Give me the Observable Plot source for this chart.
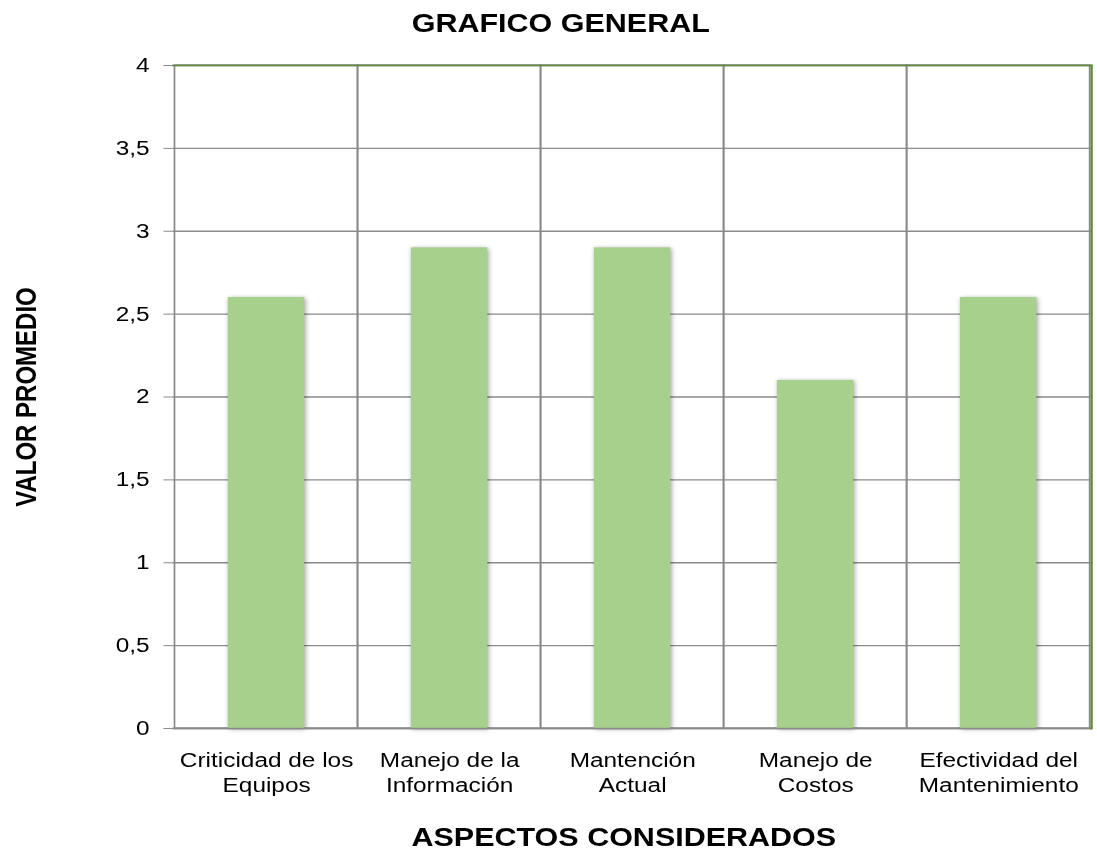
<!DOCTYPE html>
<html>
<head>
<meta charset="utf-8">
<script src="https://cdn.jsdelivr.net/npm/d3@7"></script>
<script src="https://cdn.jsdelivr.net/npm/@observablehq/plot@0.6"></script>
<style>
  html, body { margin: 0; padding: 0; background: #fff; }
  #chart { width: 899px; transform: scaleX(1.2202); transform-origin: 0 0; }
  #chart svg { font-family: "Liberation Sans", Arial, sans-serif; overflow: visible; }
  .bars { filter: drop-shadow(1.2px 1px 2px rgba(0, 0, 0, 0.38)); }
</style>
</head>
<body>
<div id="chart"></div>
<script>
// Aspects evaluated and their average score
const categories = [
  "Criticidad de los Equipos",
  "Manejo de la Información",
  "Mantención Actual",
  "Manejo de Costos",
  "Efectividad del Mantenimiento"
];
const values = [2.6, 2.9, 2.9, 2.1, 2.6];
const categoryLabels = [
  "Criticidad de los\nEquipos",
  "Manejo de la\nInformación",
  "Mantención\nActual",
  "Manejo de\nCostos",
  "Efectividad del\nMantenimiento"
];
const yTicks = [0, 0.5, 1, 1.5, 2, 2.5, 3, 3.5, 4];

const chartTitle = "GRAFICO GENERAL";
const xTitle = "ASPECTOS CONSIDERADOS";
const yTitle = "VALOR PROMEDIO";

const data = categories.map((c, i) => ({category: c, value: values[i]}));
const labelOf = new Map(categories.map((c, i) => [c, categoryLabels[i]]));

const gray = "#8a8a8a";
const green = "#5f8a3b";
const barFill = "#a8d08d";

const chart = Plot.plot({
  width: 899,
  height: 853,
  marginLeft: 141.4,
  marginRight: 4.9,
  marginTop: 65,
  marginBottom: 125,
  style: {fontFamily: "'Liberation Sans', Arial, sans-serif", color: "#000", background: "#fff"},
  x: {domain: categories, padding: 0, axis: null},
  y: {domain: [0, 4], axis: null},
  marks: [
    // horizontal grid
    Plot.gridY(yTicks, {stroke: gray, strokeOpacity: 1, strokeWidth: 1.3}),
    // category cells (vertical grid lines between aspects)
    Plot.barY(categories, {x: d => d, y1: () => 0, y2: () => 4, fill: "none", stroke: gray, strokeWidth: 1.4}),
    // average-score bars
    Plot.barY(data, {
      x: "category", y: "value", fill: barFill,
      insetLeft: 43.7, insetRight: 43.7, className: "bars"
    }),
    Plot.ruleY([0], {stroke: gray, strokeWidth: 1.4}),
    Plot.frame({anchor: "top", stroke: green, strokeWidth: 1.6}),
    Plot.frame({anchor: "right", stroke: green, strokeWidth: 1.9}),
    Plot.axisY(yTicks, {
      tickSize: 7.4, tickPadding: 11.9, stroke: gray, strokeOpacity: 1, fill: "#000",
      fontSize: 20, label: null,
      tickFormat: d => String(d).replace(".", ",")
    }),
    Plot.axisX({
      tickSize: 0, tickPadding: 21, fontSize: 20, lineHeight: 1.25, fill: "#000", label: null,
      tickFormat: d => labelOf.get(d)
    }),
    // titles
    Plot.text([chartTitle], {
      frameAnchor: "top", dx: -58.7, dy: -42, lineAnchor: "middle",
      fontSize: 25, fontWeight: "bold", fill: "#000"
    }),
    Plot.text([xTitle], {
      frameAnchor: "bottom", dx: -7, dy: 109, lineAnchor: "middle",
      fontSize: 25, fontWeight: "bold", fill: "#000"
    }),
    Plot.text([yTitle], {
      frameAnchor: "left", dx: -120, rotate: -90, lineAnchor: "middle", textAnchor: "middle",
      fontSize: 24, fontWeight: "bold", fill: "#000"
    })
  ]
});

document.getElementById("chart").appendChild(chart);
</script>
</body>
</html>
